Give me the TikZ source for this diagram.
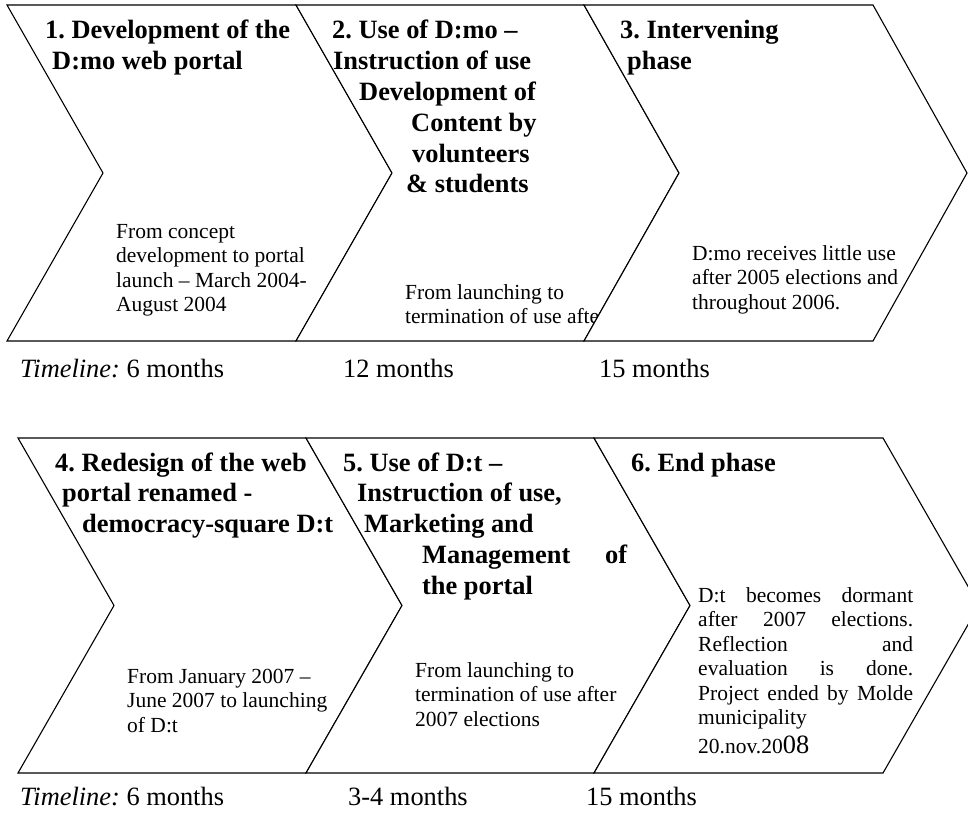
\documentclass[tikz,border=0pt]{standalone}
\usepackage{fontspec}
\setmainfont{Liberation Serif}
\tikzset{
  chev/.style={draw=black, fill=white, line width=1.1pt, line join=miter},
  ttl/.style={anchor=base west, inner sep=0pt, font=\frenchspacing\bfseries\fontsize{26.4}{30.8}\selectfont},
  sml/.style={anchor=base west, inner sep=0pt, font=\frenchspacing\fontsize{21.5}{24.5}\selectfont},
  tml/.style={anchor=base west, inner sep=0pt, font=\frenchspacing\fontsize{26.4}{30}\selectfont},
}
\newcommand{\ind}[1]{\hspace*{#1pt}}
\begin{document}
\frenchspacing
\begin{tikzpicture}[x=1pt,y=-1pt]
\useasboundingbox (0,0) rectangle (968,813);
% ---------- Row 1 ----------
\def\T{5}\def\B{341}\def\M{173}
\draw[chev] (7,\T) -- (296,\T) -- (392,\M) -- (296,\B) -- (7,\B) -- (103,\M) -- cycle;
\node[ttl] (t1) at (45,39) {\vtop{\hbox{1. Development of the}\hbox{\ind{7}D:mo web portal}}};
\node[sml] (s1) at (116,238) {\vtop{\hbox{From concept}\hbox{development to portal}\hbox{launch – March 2004-}\hbox{August 2004}}};
\draw[chev] (296,\T) -- (584,\T) -- (679,\M) -- (584,\B) -- (296,\B) -- (392,\M) -- cycle;
\node[ttl] (t2) at (332,39) {\vtop{\hbox{2. Use of D:mo –}\hbox{\ind{1}Instruction of use}\hbox{\ind{27}Development of}\hbox{\ind{79}Content by}\hbox{\ind{80}volunteers}\hbox{\ind{74}\& students}}};
\node[sml] (s2) at (405,299) {\vtop{\hbox{From launching to}\hbox{termination of use after}}};
\draw[chev] (584,\T) -- (873,\T) -- (967,\M) -- (873,\B) -- (584,\B) -- (679,\M) -- cycle;
\node[ttl] (t3) at (620,39) {\vtop{\hbox{3. Intervening}\hbox{\ind{7}phase}}};
\node[sml] (s3) at (692,260) {\vtop{\hbox{D:mo receives little use}\hbox{after 2005 elections and}\hbox{throughout 2006.}}};
\node[tml] (l1) at (20,377) {\textit{Timeline:} 6 months};
\node[tml] (l2) at (343,377) {12 months};
\node[tml] (l3) at (599,377) {15 months};
% ---------- Row 2 ----------
\def\T{438}\def\B{773}\def\M{605.5}
\draw[chev] (18,\T) -- (306,\T) -- (402,\M) -- (306,\B) -- (18,\B) -- (114,\M) -- cycle;
\node[ttl] (t4) at (55,471) {\vtop{\hbox{4. Redesign of the web}\hbox{\ind{7}portal renamed -}\hbox{\ind{27}democracy-square D:t}}};
\node[sml] (s4) at (127,683) {\vtop{\hbox{From January 2007 –}\hbox{June 2007 to launching}\hbox{of D:t}}};
\draw[chev] (306,\T) -- (594,\T) -- (690,\M) -- (594,\B) -- (306,\B) -- (402,\M) -- cycle;
\node[ttl] (t5) at (343,471) {\vtop{\hbox{5. Use of D:t –}\hbox{\ind{14}Instruction of use,}\hbox{\ind{21}Marketing and}\hbox{\ind{79}\hbox to 205pt{Management\hfill of}}\hbox{\ind{79}the portal}}};
\node[sml] (s5) at (415,677) {\vtop{\hbox{From launching to}\hbox{termination of use after}\hbox{2007 elections}}};
\draw[chev] (594,\T) -- (883,\T) -- (979,\M) -- (883,\B) -- (594,\B) -- (690,\M) -- cycle;
\node[ttl] (t6) at (631,471) {6. End phase};
\node[sml] (s6) at (698,602) {\vtop{%
  \hbox to 215pt{D:t\hfill becomes\hfill dormant}%
  \hbox to 215pt{after\hfill 2007\hfill elections.}%
  \hbox to 215pt{Reflection\hfill and}%
  \hbox to 215pt{evaluation\hfill is\hfill done.}%
  \hbox to 215pt{Project\hfill ended\hfill by\hfill Molde}%
  \hbox{municipality}\kern4pt
  \hbox{20.nov.20{\fontsize{26.4}{30}\selectfont 08}}}};
\node[tml] (l4) at (20,805) {\textit{Timeline:} 6 months};
\node[tml] (l5) at (348,805) {3-4 months};
\node[tml] (l6) at (586,805) {15 months};
\end{tikzpicture}
\end{document}
